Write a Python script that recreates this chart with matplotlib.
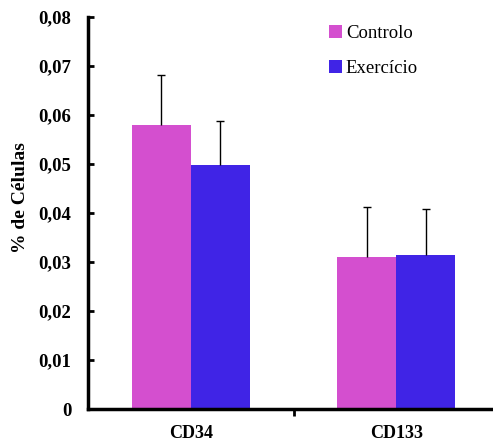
import numpy as np
import matplotlib
matplotlib.use("Agg")
import matplotlib.pyplot as plt

categories = ["CD34", "CD133"]
controlo = [0.0580, 0.0310]
exercicio = [0.0497, 0.0315]
err_controlo = [0.0102, 0.0102]
err_exercicio = [0.0091, 0.0093]
series_names = ["Controlo", "Exercício"]
yticks = [0, 0.01, 0.02, 0.03, 0.04, 0.05, 0.06, 0.07, 0.08]
ytick_labels = ["0", "0,01", "0,02", "0,03", "0,04", "0,05", "0,06", "0,07", "0,08"]

col_c = "#D44FCF"
col_e = "#4024E6"

plt.rcParams['font.family'] = ['Liberation Serif', 'DejaVu Serif']

fig = plt.figure(figsize=(4.93, 4.44), dpi=100)
ax = fig.add_axes([0.1785, 0.0788, 0.834, 0.883])

x = np.arange(len(categories))
w = 0.287
b1 = ax.bar(x - w/2, controlo, w, color=col_c, label=series_names[0], zorder=2)
b2 = ax.bar(x + w/2, exercicio, w, color=col_e, label=series_names[1], zorder=2)

# upper error bars only
for xs, vals, errs in [(x - w/2, controlo, err_controlo), (x + w/2, exercicio, err_exercicio)]:
    tops = np.array(vals) + np.array(errs)
    ax.vlines(xs, vals, tops, color='black', lw=1, zorder=3)
    ax.plot(xs, tops, ls='none', marker='_', ms=6, mew=1, color='black', zorder=3)

ax.set_xlim(-0.5, 1.5)
ax.set_ylim(0, 0.08)
ax.set_yticks(yticks)
ax.set_yticklabels(ytick_labels, fontweight='bold', fontsize=13.5)
ax.set_xticks([0.5])
ax.set_xticklabels([""])
ax.tick_params(axis='y', direction='in', length=4, width=2, pad=12)
ax.tick_params(axis='x', direction='out', length=5, width=2)
for i, c in enumerate(categories):
    ax.text(x[i], -0.005, c, ha='center', va='center', fontweight='bold', fontsize=13)

for s in ['top', 'right']:
    ax.spines[s].set_visible(False)
for s in ['left', 'bottom']:
    ax.spines[s].set_linewidth(2.5)

ax.set_ylabel("% de Células", fontweight='bold', fontsize=14, va='center')
ax.yaxis.set_label_coords(-0.165, 0.54)

ax.legend(loc='upper left', bbox_to_anchor=(329/493, 1 - 25/444), bbox_transform=fig.transFigure,
          frameon=False, fontsize=13.5, handlelength=0.7, handleheight=0.7, handletextpad=0.2,
          labelspacing=0.95, borderpad=0, borderaxespad=0)

fig.savefig("out.png", dpi=100)
